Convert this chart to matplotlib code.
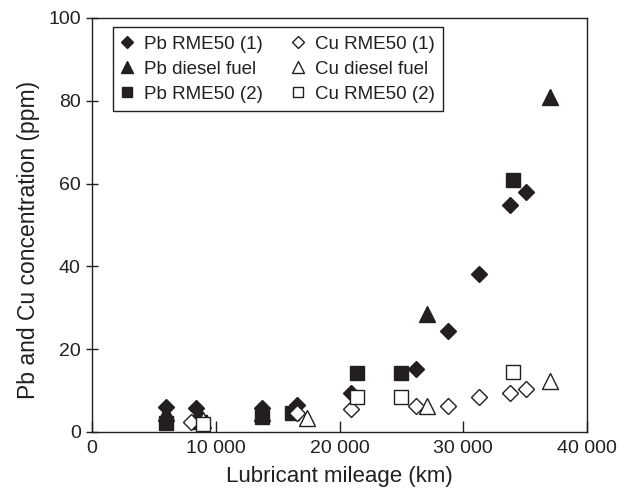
import matplotlib.pyplot as plt
from matplotlib.ticker import FuncFormatter

plt.rcParams['font.family'] = ['Liberation Sans', 'DejaVu Sans']

# mileage (km) and concentration (ppm)
pb_rme1_km = [6000, 8400, 13700, 16600, 20900, 26200, 28800, 31300, 33800, 35100]
pb_rme1 = [6.0, 5.8, 5.8, 6.5, 9.5, 15.2, 24.3, 38.2, 54.8, 58.0]

pb_diesel_km = [6000, 8700, 13700, 27100, 37000]
pb_diesel = [4.5, 4.0, 4.5, 28.5, 81.0]

pb_rme2_km = [6000, 8700, 13700, 16200, 21400, 25000, 34000]
pb_rme2 = [2.2, 2.5, 3.5, 4.6, 14.3, 14.3, 60.9]

cu_rme1_km = [8000, 16600, 20900, 26200, 28800, 31300, 33800, 35100]
cu_rme1 = [2.4, 4.6, 5.6, 6.3, 6.3, 8.5, 9.4, 10.4]

cu_diesel_km = [9000, 17400, 27100, 37000]
cu_diesel = [2.9, 3.4, 6.3, 12.3]

cu_rme2_km = [9000, 21400, 25000, 34000]
cu_rme2 = [1.8, 8.5, 8.5, 14.5]

ink = '#231f20'

fig = plt.figure(figsize=(6.34, 4.93), dpi=100)
ax = fig.add_axes([0.145, 0.124, 0.781, 0.8395])

ax.plot(pb_rme1_km, pb_rme1, ls='none', marker='D', ms=8.5, color=ink, label='Pb RME50 (1)')
ax.plot(pb_diesel_km, pb_diesel, ls='none', marker='^', ms=11.5, color=ink, label='Pb diesel fuel')
ax.plot(pb_rme2_km, pb_rme2, ls='none', marker='s', ms=9.5, color=ink, label='Pb RME50 (2)')
ax.plot(cu_rme1_km, cu_rme1, ls='none', marker='D', ms=8.5, mfc='white', mec=ink, mew=1.0, label='Cu RME50 (1)')
ax.plot(cu_diesel_km, cu_diesel, ls='none', marker='^', ms=11.5, mfc='white', mec=ink, mew=1.0, label='Cu diesel fuel')
ax.plot(cu_rme2_km, cu_rme2, ls='none', marker='s', ms=9.5, mfc='white', mec=ink, mew=1.0, label='Cu RME50 (2)')

ax.set_xlim(0, 40000)
ax.set_ylim(0, 100)
ax.set_xticks([0, 10000, 20000, 30000, 40000])
ax.set_yticks([0, 20, 40, 60, 80, 100])
ax.xaxis.set_major_formatter(FuncFormatter(lambda v, p: f'{int(v):,}'.replace(',', ' ')))
ax.tick_params(axis='x', direction='in', length=8, width=1, colors=ink, labelsize=14, pad=6)
ax.tick_params(axis='y', direction='inout', length=8, width=1, colors=ink, labelsize=14, pad=4)
for s in ax.spines.values():
    s.set_color(ink)
    s.set_linewidth(1.0)

ax.set_xlabel('Lubricant mileage (km)', fontsize=16, color=ink, labelpad=6)
ax.set_ylabel('Pb and Cu concentration (ppm)', fontsize=16.5, color=ink)
ax.yaxis.set_label_coords(-0.104, 0.464)

leg = ax.legend(ncol=2, loc='upper left', bbox_to_anchor=(0.042, 0.978), borderaxespad=0,
                fontsize=13.5, markerscale=0.7, handlelength=0.6, handletextpad=0.6,
                columnspacing=1.6, labelspacing=0.42, borderpad=0.45, fancybox=False,
                framealpha=1, edgecolor=ink)
leg.get_frame().set_linewidth(1.0)
for t in leg.get_texts():
    t.set_color(ink)

fig.savefig('out.png', dpi=100)
